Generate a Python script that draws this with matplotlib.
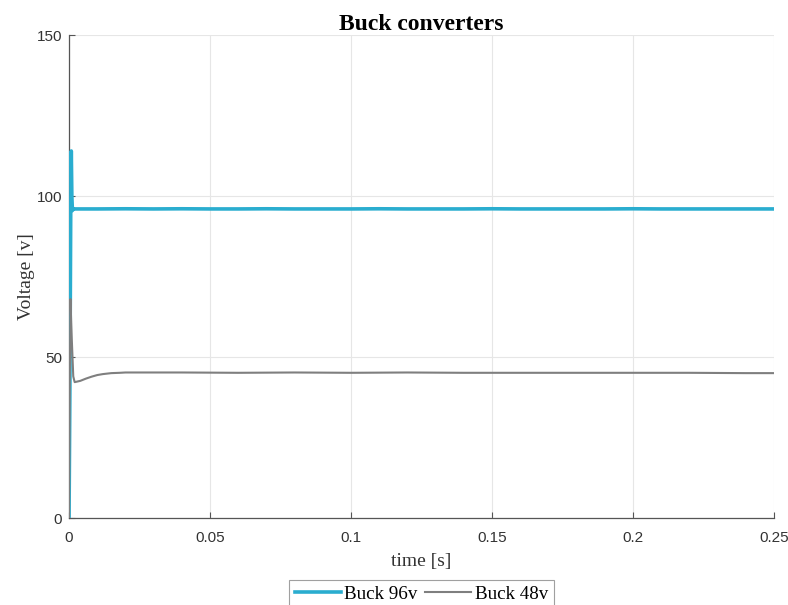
import matplotlib
matplotlib.use("Agg")
import matplotlib.pyplot as plt

# Buck 96v series (time [s], voltage [v])
t96 = [0.0, 0.0003, 0.0006, 0.0008, 0.0010, 0.0012, 0.0015, 0.002, 0.005, 0.01,
       0.02, 0.03, 0.04, 0.05, 0.06, 0.07, 0.08, 0.09, 0.10, 0.11, 0.12, 0.13,
       0.14, 0.15, 0.16, 0.17, 0.18, 0.19, 0.20, 0.21, 0.22, 0.23, 0.24, 0.25]
v96 = [0.0, 40.0, 95.0, 114.0, 100.0, 95.5, 96.1, 96.0, 96.0, 96.0,
       96.05, 96.0, 96.05, 96.0, 96.0, 96.05, 96.0, 96.0, 96.0, 96.05, 96.0, 96.0,
       96.0, 96.05, 96.0, 96.0, 96.0, 96.0, 96.05, 96.0, 96.0, 96.0, 96.0, 96.0]

# Buck 48v series
t48 = [0.0, 0.0003, 0.0005, 0.0010, 0.0015, 0.002, 0.004, 0.006, 0.008, 0.010,
       0.012, 0.015, 0.018, 0.02, 0.04, 0.06, 0.08, 0.10, 0.12, 0.14, 0.16,
       0.18, 0.20, 0.22, 0.24, 0.25]
v48 = [0.0, 45.0, 68.0, 55.0, 44.0, 42.2, 42.6, 43.3, 43.9, 44.4,
       44.7, 45.0, 45.1, 45.2, 45.2, 45.1, 45.2, 45.1, 45.2, 45.1, 45.1,
       45.1, 45.1, 45.1, 45.0, 45.0]

xticks = [0, 0.05, 0.1, 0.15, 0.2, 0.25]
xticklabels = ["0", "0.05", "0.1", "0.15", "0.2", "0.25"]
yticks = [0, 50, 100, 150]

fig = plt.figure(figsize=(7.88, 6.05), dpi=100)
ax = fig.add_axes([0.0876, 0.1438, 0.8944, 0.7982])

ax.plot(t96, v96, color="#2AADCF", lw=2.6, label="Buck 96v", zorder=3)
ax.plot(t48, v48, color="#7F7F7F", lw=1.5, label="Buck 48v", zorder=4)

ax.set_xlim(0, 0.25)
ax.set_ylim(0, 150)
ax.set_xticks(xticks)
ax.set_xticklabels(xticklabels)
ax.set_yticks(yticks)
ax.grid(True, color="#E6E6E6", lw=0.8)
ax.set_axisbelow(True)
for s in ["top", "right"]:
    ax.spines[s].set_visible(False)
for s in ["left", "bottom"]:
    ax.spines[s].set_color("#555555")
    ax.spines[s].set_linewidth(0.9)
ax.tick_params(direction="in", length=4, color="#555555", labelcolor="#333333",
               labelsize=11)
ax.tick_params(axis="x", pad=9)
ax.tick_params(axis="y", pad=5)
for lab in ax.get_xticklabels() + ax.get_yticklabels():
    lab.set_family("Liberation Sans")

ax.set_title("Buck converters", family="Liberation Serif", fontweight="bold",
             fontsize=17, pad=4)
ax.set_xlabel("time [s]", family="Liberation Serif", fontsize=14, color="#333333",
              labelpad=6)
ax.set_ylabel("Voltage [v]", family="Liberation Serif", fontsize=14, color="#333333",
              labelpad=1)

leg = fig.legend(loc="center", bbox_to_anchor=(0.535, 0.018), ncol=2,
                 prop={"family": "Liberation Serif", "size": 13.7},
                 frameon=True, fancybox=False, edgecolor="#888888",
                 handlelength=2.4, handletextpad=0.2, columnspacing=0.4,
                 borderpad=0.3, borderaxespad=0)
leg.get_frame().set_linewidth(0.8)

fig.savefig("out.png", dpi=100)
